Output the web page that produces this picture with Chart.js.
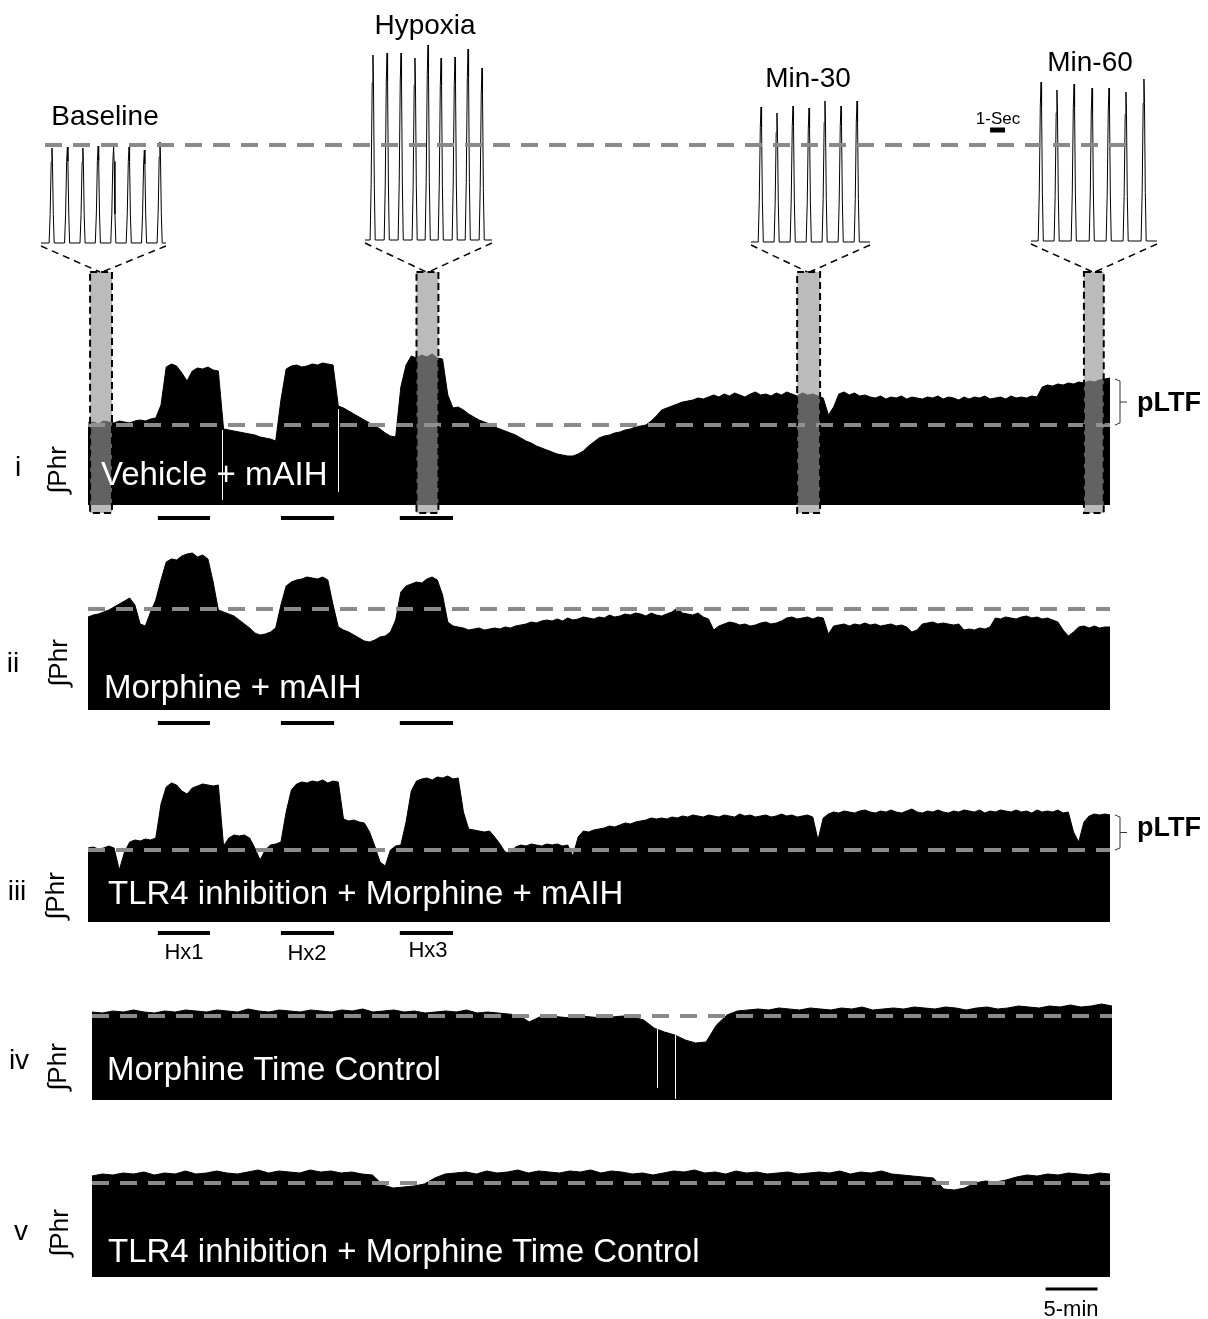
<!DOCTYPE html>
<html lang="en">
<head>
<meta charset="UTF-8">
<title>Integrated phrenic nerve activity</title>
<script src="https://cdn.jsdelivr.net/npm/chart.js"></script>
<style>
  body { margin: 0; background: #fff; }
  #fig { position: relative; width: 1208px; height: 1319px; overflow: hidden; font-family: "Liberation Sans", Arial, sans-serif; }
  #fig canvas { position: absolute; left: 0; }
  .t { position: absolute; white-space: nowrap; line-height: 1; transform: translate(-50%, -50%); color: #000; z-index: 5; }
  .l { position: absolute; white-space: nowrap; line-height: 1; transform: translateY(-50%); z-index: 5; }
  .title { color: #fff; font-size: 33px; }
  .phr { font-size: 26px; transform: translate(-50%, -50%) rotate(-90deg); }
  .rn { font-size: 28px; }
  .hx { font-size: 22px; }
</style>
</head>
<body>
<div id="fig">
  <canvas id="inHyp"></canvas>
  <canvas id="inM30"></canvas>
  <canvas id="inM60"></canvas>
  <canvas id="inBase"></canvas>
  <canvas id="p1"></canvas>
  <canvas id="p2"></canvas>
  <canvas id="p3"></canvas>
  <canvas id="p4"></canvas>
  <canvas id="p5"></canvas>

  <div class="t" style="left:105px;top:116px;font-size:28px">Baseline</div>
  <div class="t" style="left:425px;top:25px;font-size:28px">Hypoxia</div>
  <div class="t" style="left:808px;top:78px;font-size:28px">Min-30</div>
  <div class="t" style="left:1090px;top:62px;font-size:28px">Min-60</div>
  <div class="t" style="left:998px;top:118px;font-size:17px">1-Sec</div>

  <div class="t rn" style="left:18px;top:467px">i</div>
  <div class="t rn" style="left:13px;top:663px">ii</div>
  <div class="t rn" style="left:17px;top:891px">iii</div>
  <div class="t rn" style="left:19px;top:1060px">iv</div>
  <div class="t rn" style="left:21px;top:1231px">v</div>

  <div class="t phr" style="left:57px;top:470px">∫Phr</div>
  <div class="t phr" style="left:58px;top:663px">∫Phr</div>
  <div class="t phr" style="left:55px;top:896px">∫Phr</div>
  <div class="t phr" style="left:57px;top:1067px">∫Phr</div>
  <div class="t phr" style="left:59px;top:1233px">∫Phr</div>

  <div class="l title" style="left:101px;top:473px">Vehicle + mAIH</div>
  <div class="l title" style="left:104px;top:686px">Morphine + mAIH</div>
  <div class="l title" style="left:108px;top:892px">TLR4 inhibition + Morphine + mAIH</div>
  <div class="l title" style="left:107px;top:1068px">Morphine Time Control</div>
  <div class="l title" style="left:108px;top:1250px">TLR4 inhibition + Morphine Time Control</div>

  <div class="l" style="left:1137px;top:402px;font-size:27px;font-weight:bold">pLTF</div>
  <div class="l" style="left:1137px;top:827px;font-size:27px;font-weight:bold">pLTF</div>

  <div class="t hx" style="left:184px;top:952px">Hx1</div>
  <div class="t hx" style="left:307px;top:953px">Hx2</div>
  <div class="t hx" style="left:428px;top:950px">Hx3</div>
  <div class="t" style="left:1071px;top:1309px;font-size:22px">5-min</div>
</div>

<script>
// ---- integrated phrenic amplitude over 0..98 min ----
// panels i-iii: one sample every 0.5 min; panels iv-v: one per minute
var panelI = [
  82, 83, 81, 84, 83, 82, 84, 83, 82, 84,
  85, 84, 86, 87, 100, 138, 141, 139, 132, 124,
  134, 137, 136, 138, 135, 134, 76, 75, 74, 73,
  72, 71, 70, 68, 67, 66, 64, 105, 136, 139,
  140, 138, 139, 141, 140, 142, 141, 140, 99, 97,
  94, 91, 88, 85, 82, 79, 76, 72, 69, 68,
  118, 140, 149, 147, 150, 148, 151, 147, 146, 110,
  97, 98, 95, 91, 88, 85, 83, 81, 78, 76,
  74, 72, 70, 67, 64, 62, 59, 57, 55, 53,
  51, 50, 49, 49, 51, 54, 59, 63, 67, 69,
  70, 72, 73, 75, 76, 78, 79, 80, 84, 89,
  95, 97, 99, 101, 103, 104, 105, 107, 106, 108,
  110, 108, 111, 109, 112, 110, 108, 111, 113, 110,
  111, 109, 112, 110, 113, 111, 109, 112, 110, 111,
  109, 107, 90, 98, 111, 113, 110, 112, 109, 110,
  108, 107, 109, 106, 108, 107, 109, 106, 108, 107,
  106, 108, 107, 109, 106, 108, 107, 105, 108, 106,
  108, 107, 109, 106, 107, 108, 106, 109, 107, 108,
  107, 109, 108, 118, 120, 119, 121, 120, 122, 121,
  123, 122, 124, 123, 125, 126, 127
];
var panelII = [
  93, 95, 96, 98, 100, 103, 106, 109, 112, 105,
  86, 84, 98, 110, 130, 148, 151, 150, 154, 156,
  157, 153, 155, 151, 128, 100, 98, 96, 94, 90,
  86, 82, 77, 75, 76, 78, 82, 105, 124, 128,
  130, 131, 133, 132, 131, 133, 130, 105, 83, 80,
  78, 75, 72, 69, 68, 70, 73, 74, 78, 90,
  118, 124, 126, 128, 127, 131, 133, 130, 115, 88,
  84, 83, 82, 80, 81, 82, 80, 81, 82, 81,
  83, 82, 84, 85, 86, 88, 87, 89, 90, 89,
  91, 89, 92, 90, 91, 93, 92, 91, 93, 92,
  95, 93, 94, 96, 95, 97, 96, 94, 97, 95,
  94, 96, 98, 102, 97, 96, 95, 97, 93, 91,
  80, 84, 86, 88, 87, 85, 86, 84, 85, 87,
  88, 86, 87, 89, 92, 93, 91, 92, 93, 91,
  93, 92, 76, 84, 85, 86, 84, 86, 85, 87,
  85, 86, 84, 85, 86, 84, 85, 83, 78, 80,
  86, 87, 88, 86, 87, 86, 85, 86, 80, 81,
  80, 82, 81, 83, 92, 91, 93, 92, 91, 93,
  94, 92, 93, 91, 92, 90, 88, 80, 74, 78,
  83, 84, 82, 84, 82, 83, 83
];
var panelIII = [
  74, 75, 73, 74, 76, 74, 52, 70, 80, 82,
  81, 83, 82, 84, 118, 135, 139, 137, 131, 128,
  134, 136, 138, 137, 136, 137, 76, 84, 87, 86,
  87, 84, 74, 62, 72, 77, 78, 80, 110, 132,
  138, 140, 139, 141, 140, 142, 139, 141, 140, 103,
  101, 102, 100, 99, 90, 76, 60, 56, 72, 76,
  77, 100, 131, 141, 143, 144, 142, 145, 144, 146,
  143, 144, 110, 93, 92, 91, 90, 91, 85, 78,
  70, 69, 75, 77, 76, 78, 77, 76, 78, 77,
  78, 76, 77, 66, 85, 91, 90, 92, 93, 94,
  96, 95, 97, 99, 98, 100, 101, 102, 104, 103,
  104, 103, 105, 104, 106, 105, 107, 106, 105, 107,
  106, 105, 107, 106, 105, 108, 106, 107, 105, 106,
  107, 105, 106, 108, 106, 107, 105, 106, 107, 105,
  82, 104, 108, 110, 109, 111, 110, 109, 111, 112,
  110, 109, 111, 110, 112, 110, 109, 111, 113, 110,
  109, 111, 110, 112, 110, 109, 111, 110, 112, 111,
  110, 112, 109, 111, 110, 112, 111, 110, 112, 110,
  111, 109, 112, 110, 111, 110, 112, 109, 110, 90,
  80, 100, 106, 108, 107, 108, 107
];
var panelIV = [
  88, 87, 89, 88, 90, 88, 87, 89, 88, 90,
  89, 88, 90, 89, 88, 91, 89, 88, 90, 89,
  88, 90, 89, 88, 90, 89, 91, 88, 89, 90,
  88, 89, 87, 88, 89, 88, 90, 87, 88, 87,
  86, 85, 78, 83, 84, 83, 82, 84, 83, 82,
  83, 84, 83, 80, 72, 68, 65, 60, 57, 58,
  75, 85, 89, 90, 91, 90, 92, 91, 90, 92,
  91, 90, 92, 91, 93, 90, 91, 92, 91, 93,
  92, 91, 93, 92, 90, 92, 93, 91, 92, 94,
  93, 92, 94, 93, 95, 93, 94, 96, 94
];
var panelV = [
  101, 103, 102, 104, 103, 105, 102, 104, 103, 106,
  103, 104, 106, 104, 103, 105, 107, 104, 106, 105,
  104, 107, 105, 106, 104, 105, 103, 102, 92, 89,
  90, 91, 93, 99, 103, 104, 105, 103, 106, 104,
  105, 107, 104, 106, 105, 104, 106, 105, 107, 104,
  106, 105, 103, 104, 102, 104, 106, 105, 107, 104,
  105, 103, 106, 104, 105, 103, 104, 105, 103, 104,
  105, 104, 106, 103, 105, 104, 106, 103, 102, 101,
  100, 99, 88, 87, 89, 94, 96, 95, 97, 100,
  102, 101, 103, 102, 104, 103, 102, 104, 103
];
var recordMinutes = 98;

// baseline (pre-hypoxia) level of each trace
var baselineLevels = [80, 101, 72, 84, 94];
// post-hypoxia plateau marked by the pLTF brace (panels i and iii)
var pltfLevels = { 0: 126, 2: 107 };

// hypoxic episodes Hx1..Hx3 [start, end] in minutes
var hypoxiaEpisodes = [[6.7, 11.7], [18.5, 23.6], [29.9, 35.0]];
// short signal dropouts [minute, low, high]
var dropoutsI = [[12.85, 5, 75], [24.0, 13, 96]];
var dropoutsIV = [[54.3, 12, 72], [56.0, 1, 65]];
// windows shown expanded above panel i: Baseline, Hypoxia, Min-30, Min-60
var sampleWindows = [[0.2, 2.3], [31.5, 33.6], [68.0, 70.2], [95.5, 97.4]];
var scaleBarMin = [91.8, 96.8];

// ---- expanded bursts: peak time (s) and peak height ----
var baseBurstTimes = [0.73, 1.76, 2.79, 3.81, 4.84, 5.87, 6.89, 7.93];
var baseBurstAmps = [95, 96, 95, 97, 96, 96, 93, 101];
var hypBurstTimes = [0.53, 1.47, 2.4, 3.33, 4.2, 5.07, 6.0, 6.87, 7.8];
var hypBurstAmps = [185, 187, 187, 182, 195, 182, 183, 191, 172];
var m30BurstTimes = [0.67, 1.73, 2.8, 3.87, 4.93, 6.0, 7.07];
var m30BurstAmps = [135, 129, 136, 134, 141, 136, 141];
var m60BurstTimes = [0.67, 1.73, 2.87, 4.07, 5.2, 6.33, 7.53];
var m60BurstAmps = [159, 151, 157, 153, 153, 149, 162];
// burst profile: [s from peak, fraction of peak]
var burstShape = [[-0.19, 0], [-0.12, 0.3], [-0.05, 0.85], [0, 1], [0.035, 0.85], [0.09, 0.3], [0.15, 0]];
var burstRefLevel = 98;   // dashed reference at baseline burst height
var oneSecBar = [-2.73, -1.73];

// ---- layout ----
var FIG_W = 1208;
var pxPerSec = 15;
var insetBoxes = [
  { left: 41, right: 166, base: 243 },
  { left: 365, right: 492, base: 240 },
  { left: 751, right: 870, base: 242 },
  { left: 1031, right: 1157, base: 241 }
];
var panels = [
  { left: 88, right: 1110, top: 255, bottom: 505, cTop: 0, cBottom: 532, ymax: 250, barOff: 13 },
  { left: 88, right: 1110, top: 530, bottom: 710, cTop: 520, cBottom: 735, ymax: 180, barOff: 13 },
  { left: 88, right: 1110, top: 742, bottom: 922, cTop: 736, cBottom: 940, ymax: 180, barOff: 11 },
  { left: 92, right: 1112, top: 960, bottom: 1100, cTop: 950, cBottom: 1112, ymax: 140 },
  { left: 92, right: 1110, top: 1137, bottom: 1277, cTop: 1125, cBottom: 1300, ymax: 140 }
];

function line(ctx, x0, y0, x1, y1) {
  ctx.beginPath(); ctx.moveTo(x0, y0); ctx.lineTo(x1, y1); ctx.stroke();
}

function burstPoints(times, amps, dur) {
  var pts = [{ x: 0, y: 0 }];
  times.forEach(function (t, k) {
    burstShape.forEach(function (s) { pts.push({ x: t + s[0], y: amps[k] * s[1] }); });
  });
  pts.push({ x: dur, y: 0 });
  return pts;
}

function insetChart(id, box, times, amps, extra) {
  var cv = document.getElementById(id);
  var h = 262;
  cv.width = FIG_W; cv.height = h; cv.style.top = '0px';
  var dur = (box.right - box.left) / pxPerSec;
  return new Chart(cv, {
    type: 'line',
    data: { datasets: [{
      data: burstPoints(times, amps, dur),
      borderColor: '#000', borderWidth: 1, pointRadius: 0, fill: false, tension: 0
    }] },
    options: {
      responsive: false, animation: false, devicePixelRatio: 1,
      layout: { padding: { left: box.left, right: FIG_W - box.right, top: box.base - 200, bottom: h - box.base - 3 } },
      scales: {
        x: { type: 'linear', min: 0, max: dur, display: false },
        y: { min: -3, max: 200, display: false }
      },
      plugins: { legend: { display: false }, tooltip: { enabled: false } }
    },
    plugins: [{ id: 'insetExtra', afterDatasetsDraw: function (c) { if (extra) extra(c); } }]
  });
}

function traceChart(id, idx, values, dropouts, extra) {
  var p = panels[idx];
  var cv = document.getElementById(id);
  cv.width = FIG_W; cv.height = p.cBottom - p.cTop; cv.style.top = p.cTop + 'px';
  var base = baselineLevels[idx];
  var step = recordMinutes / (values.length - 1);
  return new Chart(cv, {
    type: 'line',
    data: { datasets: [
      { data: [{ x: 0, y: base }, { x: recordMinutes, y: base }], borderColor: '#8a8a8a', borderWidth: 4,
        borderDash: [17, 11], pointRadius: 0, fill: false, order: 0 },
      { data: values.map(function (v, i) { return { x: i * step, y: v }; }),
        borderColor: '#000', borderWidth: 1, backgroundColor: '#000', fill: 'origin',
        pointRadius: 0, tension: 0, order: 1 }
    ] },
    options: {
      responsive: false, animation: false, devicePixelRatio: 1,
      layout: { padding: { left: p.left, right: FIG_W - p.right, top: p.top - p.cTop, bottom: p.cBottom - p.bottom } },
      scales: {
        x: { type: 'linear', min: 0, max: recordMinutes, display: false },
        y: { min: 0, max: p.ymax, display: false }
      },
      plugins: { legend: { display: false }, tooltip: { enabled: false } }
    },
    plugins: [{
      id: 'traceMarks',
      afterDatasetsDraw: function (c) {
        var ctx = c.ctx, xs = c.scales.x, ys = c.scales.y, a = c.chartArea;
        ctx.save();
        // dropouts
        ctx.strokeStyle = '#fff'; ctx.lineWidth = 1;
        (dropouts || []).forEach(function (d) {
          var x = Math.round(xs.getPixelForValue(d[0])) + 0.5;
          line(ctx, x, ys.getPixelForValue(d[1]), x, ys.getPixelForValue(d[2]));
        });
        // hypoxia bars
        if (p.barOff) {
          ctx.strokeStyle = '#000'; ctx.lineWidth = 4;
          hypoxiaEpisodes.forEach(function (e) {
            line(ctx, xs.getPixelForValue(e[0]), a.bottom + p.barOff, xs.getPixelForValue(e[1]), a.bottom + p.barOff);
          });
        }
        // pLTF brace
        if (pltfLevels[idx] !== undefined) {
          var yT = ys.getPixelForValue(pltfLevels[idx]), yB = ys.getPixelForValue(base);
          var bx = a.right + 10;
          ctx.strokeStyle = '#333'; ctx.lineWidth = 1;
          ctx.beginPath();
          ctx.moveTo(bx - 5, yT); ctx.lineTo(bx, yT + 2); ctx.lineTo(bx, yB - 2); ctx.lineTo(bx - 5, yB);
          ctx.moveTo(bx, (yT + yB) / 2); ctx.lineTo(bx + 7, (yT + yB) / 2);
          ctx.stroke();
        }
        if (extra) extra(c, ctx, xs, ys, a);
        ctx.restore();
      }
    }]
  });
}

// insets
insetChart('inHyp', insetBoxes[1], hypBurstTimes, hypBurstAmps);
insetChart('inM30', insetBoxes[2], m30BurstTimes, m30BurstAmps);
insetChart('inM60', insetBoxes[3], m60BurstTimes, m60BurstAmps, function (c) {
  var ctx = c.ctx, xs = c.scales.x, ys = c.scales.y;
  ctx.save(); ctx.strokeStyle = '#000'; ctx.lineWidth = 5;
  var y = ys.getPixelForValue(insetBoxes[3].base - 130);
  line(ctx, xs.getPixelForValue(oneSecBar[0]), y, xs.getPixelForValue(oneSecBar[1]), y);
  ctx.restore();
});
insetChart('inBase', insetBoxes[0], baseBurstTimes, baseBurstAmps, function (c) {
  var ctx = c.ctx, ys = c.scales.y;
  var y = ys.getPixelForValue(burstRefLevel);
  ctx.save(); ctx.strokeStyle = '#8a8a8a'; ctx.lineWidth = 4; ctx.setLineDash([17, 11]);
  line(ctx, 45, y, 1130, y);
  ctx.restore();
});

// trace panels
traceChart('p1', 0, panelI, dropoutsI, function (c, ctx, xs, ys, a) {
  sampleWindows.forEach(function (w, k) {
    var x0 = xs.getPixelForValue(w[0]), x1 = xs.getPixelForValue(w[1]);
    var yT = ys.getPixelForValue(233), yB = ys.getPixelForValue(-8);
    ctx.setLineDash([]);
    ctx.fillStyle = 'rgba(150,150,150,0.65)';
    ctx.fillRect(x0, yT, x1 - x0, yB - yT);
    ctx.strokeStyle = '#000'; ctx.lineWidth = 2; ctx.setLineDash([7, 4]);
    ctx.strokeRect(x0, yT, x1 - x0, yB - yT);
    var b = insetBoxes[k], xm = (x0 + x1) / 2;
    ctx.lineWidth = 1.5; ctx.setLineDash([7, 5]);
    line(ctx, b.left, b.base + 3, xm - 1, yT);
    line(ctx, b.right, b.base + 3, xm + 1, yT);
  });
});
traceChart('p2', 1, panelII);
traceChart('p3', 2, panelIII);
traceChart('p4', 3, panelIV, dropoutsIV);
traceChart('p5', 4, panelV, null, function (c, ctx, xs, ys, a) {
  ctx.strokeStyle = '#000'; ctx.lineWidth = 3;
  line(ctx, xs.getPixelForValue(scaleBarMin[0]), a.bottom + 12, xs.getPixelForValue(scaleBarMin[1]), a.bottom + 12);
});
</script>
</body>
</html>
